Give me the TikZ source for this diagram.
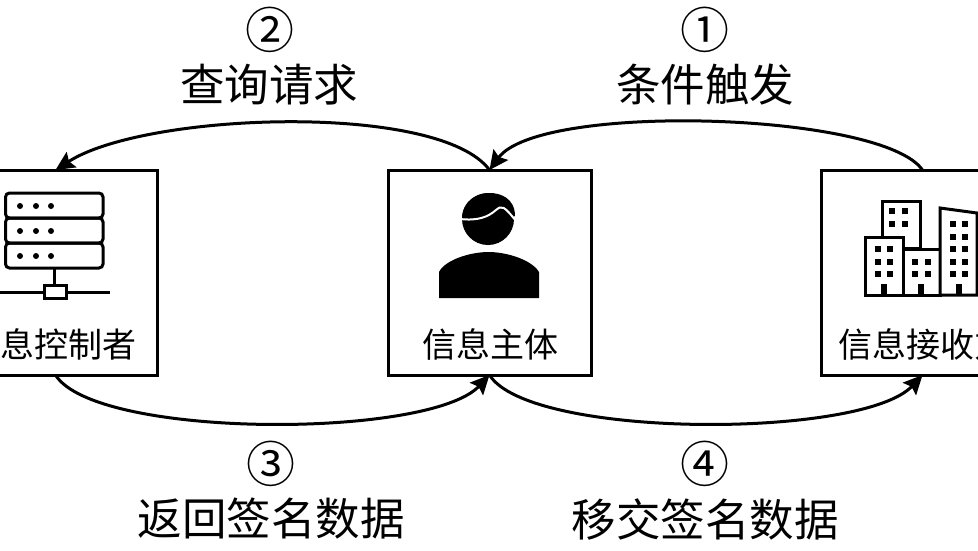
\documentclass[tikz,border=0pt]{standalone}
\usepackage{fontspec}
\setmainfont{Noto Sans CJK SC}
\usetikzlibrary{arrows.meta}
\tikzset{
	party/.style={shape=rectangle, draw=black, line width=3pt, minimum width=203pt, minimum height=205pt, outer sep=0pt},
	partytext/.style={font=\fontsize{34}{34}\selectfont, inner sep=0pt},
	steptext/.style={font=\fontsize{44.5}{46}\selectfont, inner sep=0pt},
	numtext/.style={font=\fontsize{49}{50}\selectfont, inner sep=0pt},
	flow/.style={draw=black, line width=3pt, -{Stealth[length=19pt,width=18pt,inset=3pt]}},
	icon/.style={line width=3pt, draw=black},
}
\begin{document}
\begin{tikzpicture}[x=1pt, y=-1pt]
	\useasboundingbox (0,0) rectangle (978,550);
	\clip (0,0) rectangle (978,550);
	\fill[white] (0,0) rectangle (978,550);

	\draw (55.5,272.5) node[party](controller){};
	\draw (489.5,272.5) node[party](subject){};
	\draw (922.5,272.5) node[party](receiver){};

	\draw (52,344) node[partytext](controllertext){信息控制者};
	\draw (490,344) node[partytext](subjecttext){信息主体};
	\draw (923,344) node[partytext](receivertext){信息接收方};

	\draw (270,30) node[numtext](num2){②};
	\draw (269,85) node[steptext](ask){查询请求};
	\draw (705,30) node[numtext](num1){①};
	\draw (705,85) node[steptext](trigger){条件触发};
	\draw (271,464) node[numtext](num3){③};
	\draw (271,519) node[steptext](back){返回签名数据};
	\draw (705,464) node[numtext](num4){④};
	\draw (705,519) node[steptext](hand){移交签名数据};

	\draw [flow](receiver.north) .. controls +(-40,-58) and +(50,-68) .. (subject.north);
	\draw [flow](subject.north) .. controls +(-50,-68) and +(90,-58) .. (controller.north);
	\draw [flow](controller.south) .. controls +(40,64) and +(-60,64) .. (subject.south);
	\draw [flow](subject.south) .. controls +(40,64) and +(-60,64) .. (receiver.south);

	% server
	\draw[icon, rounded corners=4pt] (5.5,193) rectangle (103,218);
	\draw[icon, rounded corners=4pt] (5.5,218) rectangle (103,243);
	\draw[icon, rounded corners=4pt] (5.5,243) rectangle (103,268);
	\foreach \y in {206,231,256}
		\foreach \x in {20,36,51}
			\fill (\x,\y) circle (3);
	\draw[icon] (54,268) -- (54,285);
	\draw[icon] (0,292) -- (44,292);
	\draw[icon] (66.5,292) -- (110,292);
	\draw[icon] (44,285) rectangle (66.5,298);

	% person
	\fill (488,219) circle (26);
	\fill (462,219) .. controls (462,200) and (478,193) .. (490,193) .. controls (500,193) and (515,198) .. (515,216) -- (500,222) -- cycle;
	\draw[white, line width=2pt] (460,219) .. controls (478,221) and (488,217) .. (496,210) .. controls (502,205) and (504,206) .. (516,221);
	\fill (439,298) -- (439,272) .. controls (445,260) and (470,252) .. (488.5,252) .. controls (507,252) and (532,260) .. (539,272) -- (539,298) -- cycle;

	% buildings
	\draw[icon, fill=white] (882,201) rectangle (920,248);
	\draw[icon, fill=white] (865,237) rectangle (903,295);
	\draw[icon, fill=white] (903,249) rectangle (940,295);
	\draw[icon, fill=white] (940,208) -- (977,213) -- (977,295) -- (940,295) -- cycle;
	\foreach \x in {892,905}
		\foreach \y in {211,224}
			\fill (\x,\y) +(-3,-3) rectangle +(3,3);
	\foreach \x in {878,890}
		\foreach \y in {249,262,274}
			\fill (\x,\y) +(-3,-3) rectangle +(3,3);
	\foreach \x in {915,928}
		\foreach \y in {262,274}
			\fill (\x,\y) +(-3,-3) rectangle +(3,3);
	\foreach \x in {953,965}
		\foreach \y in {224,237,249,262,274}
			\fill (\x,\y) +(-3,-3) rectangle +(3,3);
	\fill (881,284) rectangle (887,295);
	\fill (918,284) rectangle (924,295);
	\fill (956,284) rectangle (962,295);
\end{tikzpicture}
\end{document}
